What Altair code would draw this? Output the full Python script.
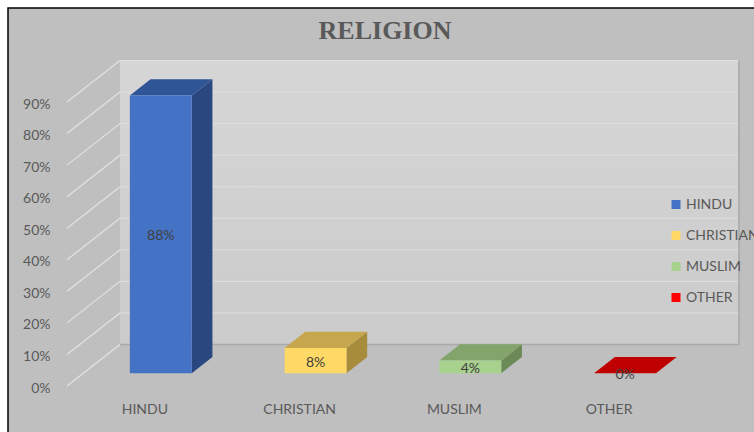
import json
import altair as alt
import pandas as pd

# ---------------- data ----------------
categories = ["HINDU", "CHRISTIAN", "MUSLIM", "OTHER"]
shares = [0.88, 0.08, 0.04, 0.00]
value_labels = ["88%", "8%", "4%", "0%"]
y_ticks = [0.0, 0.1, 0.2, 0.3, 0.4, 0.5, 0.6, 0.7, 0.8, 0.9]
chart_title = "RELIGION"

# ---------------- styles ----------------
front_colors = ["#4472C4", "#FFD966", "#A9D18E", "#FF0000"]
top_colors = ["#2F5597", "#C6A74E", "#83A56B", "#C00000"]
side_colors = ["#294880", "#A78C3B", "#6C8A57", "#A00000"]
TEXT = "#595959"
FONT = "Lato"

W, H = 619, 284
Y_MAX = 0.9
# oblique 3-D projection (depth direction), in data units
DX = 53 / (W / len(categories))      # full depth, in category slots
DY = 41.5 / (H / Y_MAX)              # full depth, in value units
D0, D1 = 0.31, 0.70                  # bar depth extent (fraction of full depth)
HW = 0.2                             # half bar width (gap width 150%)

x_axis = alt.Axis(values=[i + 0.5 for i in range(len(categories))],
                  labelExpr=json.dumps(categories) + "[floor(datum.value)]",
                  title=None, domain=False, ticks=False, tickSize=0, grid=False,
                  labelPadding=23, labelBaseline="middle", labelFont=FONT,
                  labelFontSize=14, labelColor=TEXT, labelFlush=False,
                  labelOverlap=False, zindex=2)
y_axis = alt.Axis(values=y_ticks, format=".0%", title=None, domain=False,
                  ticks=False, tickSize=0, grid=False, labelPadding=17,
                  labelFont=FONT, labelFontSize=14, labelColor=TEXT,
                  labelOffset=2, labelOverlap=False, labelFlush=False, zindex=2)
xs = alt.Scale(domain=[0, len(categories)], nice=False, zero=False)
ys = alt.Scale(domain=[0, Y_MAX], nice=False, zero=False)


def X(f):
    return alt.X(f + ":Q", scale=xs, axis=x_axis)


def Y(f):
    return alt.Y(f + ":Q", scale=ys, axis=y_axis)


# ---------------- geometry tables derived from the data ----------------
n = len(categories)
front = pd.DataFrame({
    "cat": categories,
    "x": [i + 0.5 - HW + D0 * DX for i in range(n)],
    "x2": [i + 0.5 + HW + D0 * DX for i in range(n)],
    "y": [D0 * DY] * n,
    "y2": [v + D0 * DY for v in shares],
})
labels_df = pd.DataFrame({
    "txt": value_labels,
    "x": [i + 0.5 + D0 * DX for i in range(n)],
    "y": [v / 2 + D0 * DY for v in shares],
})

wall = pd.DataFrame({"x": [DX], "x2": [n + DX], "y": [DY], "y2": [Y_MAX + DY]})
back_grid = pd.DataFrame({"x": [DX] * (len(y_ticks) - 1), "x2": [n + DX] * (len(y_ticks) - 1),
                          "y": [t + DY for t in y_ticks[1:]]})
left_grid = pd.DataFrame({"x": [0.0] * len(y_ticks), "x2": [DX] * len(y_ticks),
                          "y": y_ticks, "y2": [t + DY for t in y_ticks]})
edges = pd.DataFrame({"x": [DX, n + DX], "x2": [n + DX, n + DX],
                      "y": [DY, DY], "y2": [DY, Y_MAX + DY]})

# ---------------- layers ----------------
frame = alt.Chart(alt.Data(values=[{}])).mark_rect(
    fill="#bfbfbf", stroke="#000000", strokeWidth=1.5
).encode(x=alt.value(-59), x2=alt.value(W + 90), y=alt.value(-94), y2=alt.value(H + 80))

wall_l = alt.Chart(wall).mark_rect(
    fill=alt.Gradient(gradient="linear",
                      stops=[alt.GradientStop(color="#d6d6d6", offset=0),
                             alt.GradientStop(color="#cbcbcb", offset=1)],
                      x1=0, x2=0, y1=0, y2=1)
).encode(x=X("x"), x2="x2", y=Y("y"), y2="y2")

back_grid_l = alt.Chart(back_grid).mark_rule(color="#dedede", strokeWidth=1).encode(
    x=X("x"), x2="x2", y=Y("y"))
left_grid_l = alt.Chart(left_grid).mark_rule(color="#e3e3e3", strokeWidth=1.2).encode(
    x=X("x"), x2="x2", y=Y("y"), y2="y2")
edges_l = alt.Chart(edges).mark_rule(color="#a9a9a9", strokeWidth=1.6).encode(
    x=X("x"), x2="x2", y=Y("y"), y2="y2")

face_layers = []
for i, (c, v) in enumerate(zip(categories, shares)):
    side_df = pd.DataFrame({
        "x": [i + 0.5 + HW + d * DX for d in (D0, D1)],
        "y": [v + d * DY for d in (D0, D1)],
        "y2": [d * DY for d in (D0, D1)],
    })
    top_df = pd.DataFrame({
        "y": [v + d * DY for d in (D0, D1)],
        "x": [i + 0.5 - HW + d * DX for d in (D0, D1)],
        "x2": [i + 0.5 + HW + d * DX for d in (D0, D1)],
    })
    if v > 0:
        face_layers.append(alt.Chart(side_df).mark_area(
            color=side_colors[i], orient="vertical").encode(
            x=X("x"), y=Y("y"), y2="y2"))
    face_layers.append(alt.Chart(top_df).mark_area(
        color=top_colors[i], orient="horizontal").encode(
        y=Y("y"), x=X("x"), x2="x2"))

front_l = alt.Chart(front).mark_rect().encode(
    x=X("x"), x2="x2", y=Y("y"), y2="y2",
    color=alt.Color("cat:N", scale=alt.Scale(domain=categories, range=front_colors),
                    legend=alt.Legend(orient="none", legendX=602, legendY=95.5, title=None,
                                      symbolType="square", symbolSize=81,
                                      symbolStrokeWidth=0, labelFont=FONT,
                                      labelFontSize=14, labelColor=TEXT,
                                      rowPadding=17, padding=0, labelOffset=3)))

bar_text = alt.Chart(labels_df).mark_text(
    font=FONT, fontSize=14, color="#404040", baseline="middle", align="center", dy=2
).encode(x=X("x"), y=Y("y"), text="txt:N")

title_l = alt.Chart(alt.Data(values=[{"t": chart_title}])).mark_text(
    font="Liberation Serif", fontSize=26, fontWeight="bold", color=TEXT,
    baseline="middle", align="center"
).encode(x=alt.value(W / 2 + 8.5), y=alt.value(-71), text="t:N")

chart = alt.layer(
    frame, wall_l, back_grid_l, left_grid_l, edges_l, *face_layers, front_l,
    bar_text, title_l
).properties(
    width=W, height=H,
    autosize=alt.AutoSizeParams(type="none"),
    padding={"left": 67, "top": 102, "right": 68, "bottom": 46},
    background="white",
).configure_view(stroke=None)

chart.save("out.html", embed_options={"renderer": "svg", "actions": False})
